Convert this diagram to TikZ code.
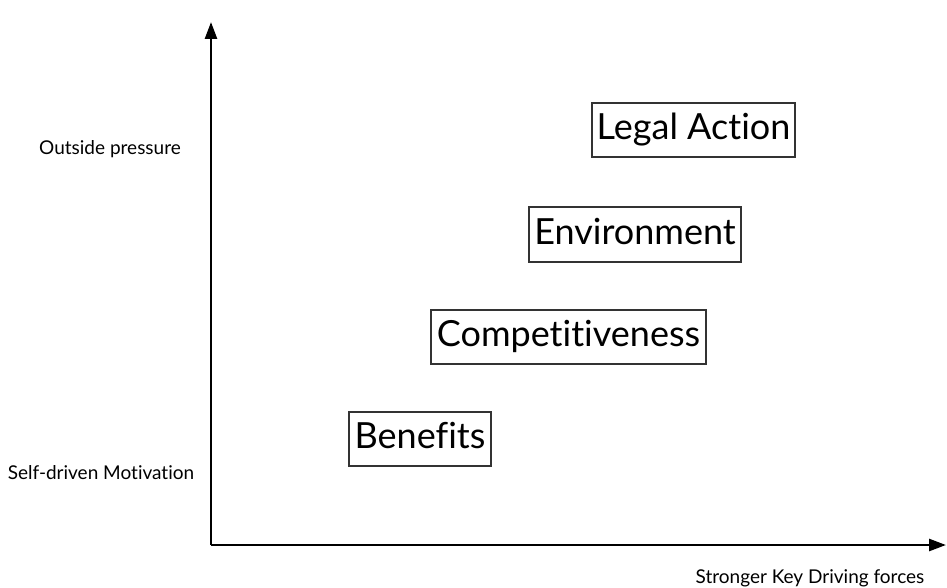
\documentclass[tikz,border=0pt]{standalone}
\usepackage{fontspec}
\setmainfont{Lato}[Ligatures={NoCommon}]
\usetikzlibrary{arrows.meta}
\begin{document}
\begin{tikzpicture}[x=1pt,y=-1pt,
  force/.style={draw=black!80,line width=1.2pt,inner sep=0pt,font=\fontsize{36}{40}\selectfont,text height=26pt,text depth=7pt},
  axislabel/.style={font=\fontsize{19}{22}\selectfont,inner sep=0pt},
  axis/.style={line width=2.6pt,-{Triangle[length=17pt,width=12pt]}}]
\useasboundingbox (0,0) rectangle (947,588);
\coordinate (o) at (211,545);
\coordinate (ytip) at (211,22);
\coordinate (xtip) at (946,545);
\draw[axis] (o) -- (ytip);
\draw[axis] (o) -- (xtip);
\node[force,minimum width=203pt,minimum height=54pt] (legal) at (693.5,130) {Legal Action};
\node[force,minimum width=212pt,minimum height=55pt] (env) at (635,234.5) {Environment};
\node[force,minimum width=275pt,minimum height=54pt] (comp) at (568.5,337) {Competitiveness};
\node[force,minimum width=142pt,minimum height=54pt] (ben) at (420,439) {Benefits};
\node[axislabel] (outside) at (110,149) {Outside pressure};
\node[axislabel] (self) at (101,473) {Self-driven Motivation};
\node[axislabel] (stronger) at (810,578) {Stronger Key Driving forces};
\end{tikzpicture}
\end{document}
